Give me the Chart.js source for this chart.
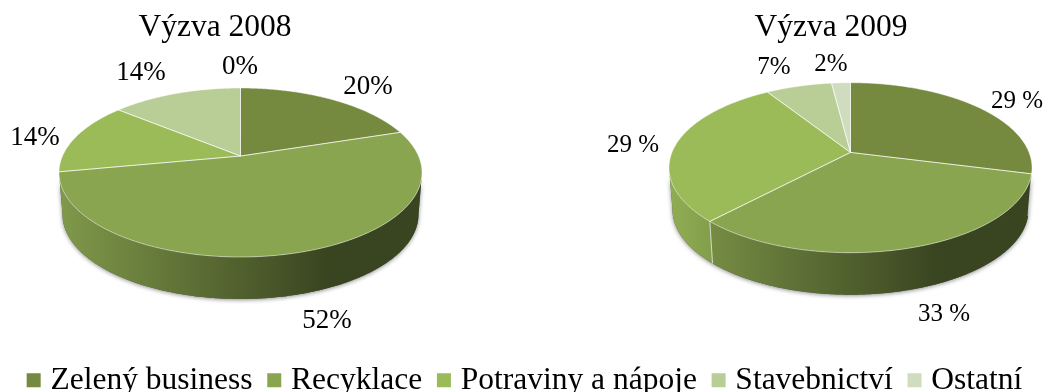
<!DOCTYPE html>
<html>
<head>
<meta charset="utf-8">
<title>Výzva 2008 a 2009</title>
<script src="https://cdn.jsdelivr.net/npm/chart.js@4"></script>
<style>
    html, body { margin: 0; padding: 0; background: #fff; overflow: hidden; }
    canvas { display: block; filter: blur(0.35px); }
</style>
</head>
<body>
<canvas id="pies" width="1046" height="392"></canvas>
<script>
// Data
const categories = ['Zelený business', 'Recyklace', 'Potraviny a nápoje', 'Stavebnictví', 'Ostatní'];
const values2008 = [20, 52, 14, 14, 0];
const values2009 = [29, 33, 29, 7, 2];
const labels2008 = ['20%', '52%', '14%', '14%', '0%'];
const labels2009 = ['29 %', '33 %', '29 %', '7%', '2%'];
const colors = ['#75893f', '#8aa54f', '#9bbb59', '#b9cd96', '#cfdcbd'];

// Where each pie sits on the page, and where its labels go
const pieLayout = [
    { cx: 240.5, cy: 172.5, rx: 181.5, ry: 84.5, skew: 0.195, titleX: 215, fontSize: 27,
      labelPos: [[368, 86], [327, 320], [35, 137], [141, 72], [240, 66]] },
    { cx: 850.5, cy: 167.7, rx: 181.5, ry: 85, skew: 0.18, titleX: 831, fontSize: 25,
      labelPos: [[1017, 100], [944, 313], [633, 144], [774, 66], [831, 63]] }
];
const wallDepth = 42;
const wallInset = 3.5;

// Perspective view of the disc: the centre sits above the middle of the ellipse
function project(p, angle, drop, inset) {
    const u = Math.sin(angle), v = Math.cos(angle);
    const d = 1 + p.skew * v;
    const s = Math.sqrt(1 - p.skew * p.skew);
    return [
        p.cx + (p.rx - inset) * u * s / d,
        p.cy + drop - p.ry * (v + p.skew) / d
    ];
}

function rimPoints(p, from, to, drop, inset) {
    const pts = [];
    const steps = Math.max(2, Math.ceil(Math.abs(to - from) / 0.01));
    for (let i = 0; i <= steps; i++) {
        pts.push(project(p, from + (to - from) * i / steps, drop, inset));
    }
    return pts;
}

function tracePath(ctx, pts) {
    ctx.beginPath();
    pts.forEach((pt, i) => i ? ctx.lineTo(pt[0], pt[1]) : ctx.moveTo(pt[0], pt[1]));
    ctx.closePath();
}

function shade(hex, f) {
    const n = parseInt(hex.slice(1), 16);
    return `rgb(${((n >> 16) & 255) * f}, ${((n >> 8) & 255) * f}, ${(n & 255) * f})`;
}

function wallGradient(ctx, p, color) {
    const left = p.cx - p.rx + wallInset;
    const g = ctx.createLinearGradient(left, 0, left + 2 * (p.rx - wallInset), 0);
    g.addColorStop(0, shade(color, 0.92));
    g.addColorStop(0.75, shade(color, 0.41));
    g.addColorStop(1, shade(color, 0.41));
    return g;
}

// Replaces the flat arcs: angles still come from Chart.js's own arc elements
const tiltedPies = {
    id: 'tiltedPies',
    beforeDatasetsDraw(chart) {
        const ctx = chart.ctx;
        pieLayout.forEach((p, di) => {
            const arcs = chart.getDatasetMeta(di).data;
            const slices = arcs.map(a => [a.startAngle + Math.PI / 2, a.endAngle + Math.PI / 2]);
            const frontFrom = Math.acos(-p.skew);
            const frontTo = 2 * Math.PI - frontFrom;

            // soft shadow under the wall
            ctx.save();
            ctx.shadowColor = 'rgba(0,0,0,0.45)';
            ctx.shadowBlur = 4;
            ctx.shadowOffsetY = 1;
            ctx.fillStyle = '#555';
            tracePath(ctx, rimPoints(p, frontFrom, frontTo, 0, 0)
                .concat(rimPoints(p, frontTo, frontFrom, wallDepth, wallInset)));
            ctx.fill();
            ctx.restore();

            // side wall
            slices.forEach((s, i) => {
                const from = Math.max(s[0], frontFrom);
                const to = Math.min(s[1], frontTo);
                if (to <= from) return;
                ctx.fillStyle = wallGradient(ctx, p, colors[i]);
                tracePath(ctx, rimPoints(p, from, to, 0, 0)
                    .concat(rimPoints(p, to, from, wallDepth, wallInset)));
                ctx.fill();
                if (s[0] > frontFrom && s[0] < frontTo) {
                    const a = project(p, s[0], 0, 0), b = project(p, s[0], wallDepth, wallInset);
                    ctx.strokeStyle = 'rgba(255,255,255,0.7)';
                    ctx.lineWidth = 1;
                    ctx.beginPath();
                    ctx.moveTo(a[0], a[1]);
                    ctx.lineTo(b[0], b[1]);
                    ctx.stroke();
                }
            });

            // top face
            const apex = [p.cx, p.cy - p.ry * p.skew];
            slices.forEach((s, i) => {
                if (s[1] <= s[0]) return;
                tracePath(ctx, [apex].concat(rimPoints(p, s[0], s[1], 0, 0)));
                ctx.fillStyle = colors[i];
                ctx.fill();
            });
            slices.forEach((s) => {
                if (s[1] <= s[0]) return;
                tracePath(ctx, [apex].concat(rimPoints(p, s[0], s[1], 0, 0)));
                ctx.strokeStyle = 'rgba(255,255,255,0.6)';
                ctx.lineWidth = 0.8;
                ctx.stroke();
            });
        });
        return false;
    },
    afterDraw(chart) {
        const ctx = chart.ctx;
        ctx.save();
        ctx.fillStyle = '#000';
        ctx.textAlign = 'center';
        pieLayout.forEach((p, di) => {
            const ds = chart.data.datasets[di];
            ctx.font = '31.5px "Liberation Serif"';
            ctx.textBaseline = 'alphabetic';
            ctx.fillText(ds.label, p.titleX, 36);
            ctx.font = p.fontSize + 'px "Liberation Serif"';
            ctx.textBaseline = 'middle';
            ds.pctLabels.forEach((txt, i) => {
                ctx.fillText(txt, p.labelPos[i][0], p.labelPos[i][1] + 1);
            });
        });
        ctx.restore();
    }
};

new Chart(document.getElementById('pies'), {
    type: 'pie',
    data: {
        labels: categories,
        datasets: [
            { label: 'Výzva 2008', data: values2008, pctLabels: labels2008, backgroundColor: colors, borderWidth: 0 },
            { label: 'Výzva 2009', data: values2009, pctLabels: labels2009, backgroundColor: colors, borderWidth: 0 }
        ]
    },
    options: {
        responsive: false,
        animation: false,
        layout: { padding: { bottom: -14, left: 9 } },
        plugins: {
            title: { display: false },
            tooltip: { enabled: false },
            legend: {
                display: true,
                position: 'bottom',
                labels: {
                    usePointStyle: true,
                    pointStyle: 'rect',
                    boxWidth: 2,
                    boxHeight: 14,
                    padding: 20.75,
                    color: '#000',
                    font: { family: '"Liberation Serif"', size: 31.5 }
                }
            }
        }
    },
    plugins: [tiltedPies]
});
</script>
</body>
</html>
